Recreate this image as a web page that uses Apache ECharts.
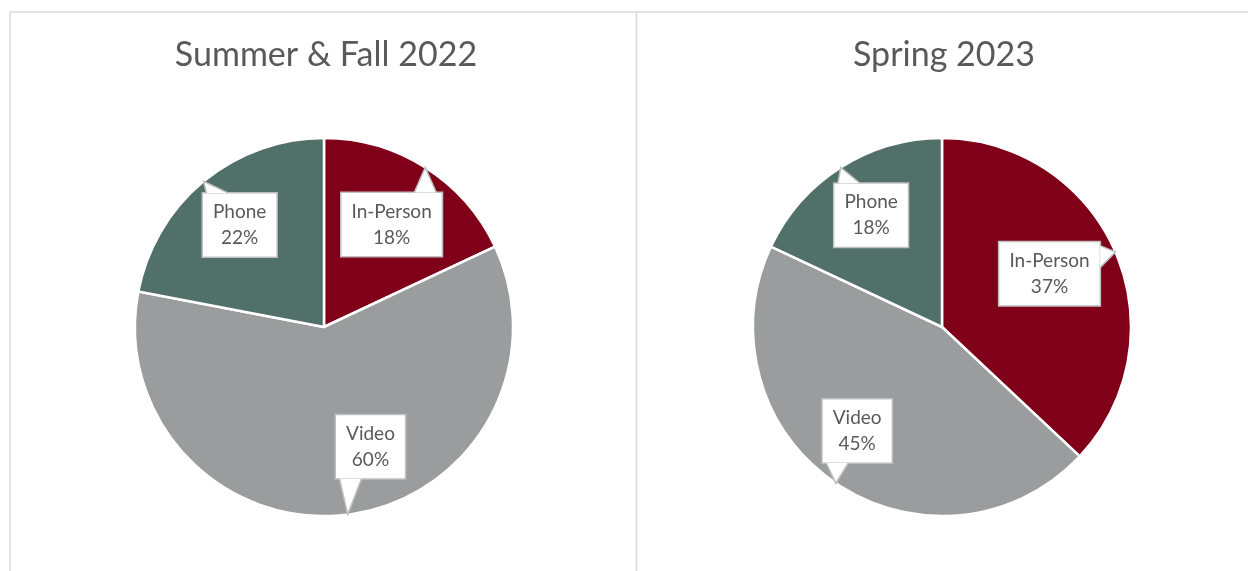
<!DOCTYPE html>
<html><head><meta charset="utf-8">
<script src="https://cdn.jsdelivr.net/npm/echarts@6/dist/echarts.min.js"></script>
<style>html,body{margin:0;padding:0;background:#fff}#c{width:1248px;height:571px}</style>
</head><body><div id="c"></div>
<script>
const titles = ['Summer & Fall 2022', 'Spring 2023'];
const categories = ['In-Person', 'Video', 'Phone'];
const summerFall2022 = [18, 60, 22];
const spring2023 = [37, 45, 18];
const colors = ['#80001A', '#9B9C9E', '#52706A'];

// label placement (styling): [fraction of radius, angular offset in degrees]
const labelPlace = [
  [[0.65, 1], [0.68, -14], [0.70, 0]],
  [[0.635, -3], [0.71, 5], [0.70, 0]]
];
const R = 189;
const centers = [[324, 327], [942, 327]];
const FONT = 'Lato, "Noto Sans", sans-serif';

function makeData(vals) {
  return categories.map((c, i) => ({ name: c, value: vals[i], itemStyle: { color: colors[i] } }));
}

function labelLayout(params) {
  const pl = labelPlace[params.seriesIndex][params.dataIndex];
  const pts = params.labelLinePoints;
  if (!pts) return {};
  const p0 = pts[0], p1 = pts[1];
  let dx = p1[0] - p0[0], dy = p1[1] - p0[1];
  const len = Math.hypot(dx, dy) || 1; dx /= len; dy /= len;
  const cx = p0[0] - dx * R, cy = p0[1] - dy * R;
  const th = Math.atan2(dx, -dy) + pl[1] * Math.PI / 180;
  const lx = cx + R * pl[0] * Math.sin(th), ly = cy - R * pl[0] * Math.cos(th);
  const w = params.labelRect.width, h = params.labelRect.height;
  const left = lx - w / 2, right = lx + w / 2, top = ly - h / 2, bottom = ly + h / 2;
  const tip = [p0[0], p0[1]];
  let b1, b2;
  if (tip[1] < top || tip[1] > bottom) {
    const ey = tip[1] < top ? top + 1 : bottom - 1;
    const bx = Math.min(Math.max(tip[0], left + 16), right - 16);
    b1 = [bx - 11, ey]; b2 = [bx + 11, ey];
  } else {
    const ex = tip[0] < left ? left + 1 : right - 1;
    const by = Math.min(Math.max(tip[1], top + 16), bottom - 16);
    b1 = [ex, by - 11]; b2 = [ex, by + 11];
  }
  return { x: lx, y: ly, align: 'center', verticalAlign: 'middle', labelLinePoints: [b1, tip, b2] };
}

function pieSeries(vals, idx) {
  return {
    type: 'pie',
    center: centers[idx],
    radius: R,
    startAngle: 90,
    clockwise: true,
    avoidLabelOverlap: false,
    emphasis: { disabled: true },
    itemStyle: { borderColor: '#ffffff', borderWidth: 2.5 },
    label: {
      show: true,
      position: 'outside',
      formatter: '{b}\n{c}%',
      fontFamily: FONT,
      fontSize: 19,
      lineHeight: 26,
      color: '#595959',
      backgroundColor: '#ffffff',
      borderColor: '#BFBFBF',
      borderWidth: 1.5,
      padding: [6, 10, 5, 10],
      align: 'center'
    },
    labelLine: { show: true, length: 10, length2: 10, smooth: false,
      lineStyle: { color: '#BFBFBF', width: 1.5 } },
    labelLayout: labelLayout,
    data: makeData(vals)
  };
}

const chart = echarts.init(document.getElementById('c'), null, { renderer: 'canvas' });
chart.setOption({
  animation: false,
  backgroundColor: '#ffffff',
  title: titles.map((t, i) => ({
    text: t, left: centers[i][0] - 3, top: 33, textAlign: 'center',
    textStyle: { fontFamily: FONT, fontSize: 34, fontWeight: 'normal', color: '#595959' }
  })),
  graphic: [
    { type: 'rect', silent: true, z: -10,
      shape: { x: 10, y: 12, width: 1400, height: 700 },
      style: { fill: 'none', stroke: '#D9D9D9', lineWidth: 1.5 } },
    { type: 'line', silent: true, z: -10,
      shape: { x1: 636.5, y1: 12, x2: 636.5, y2: 600 },
      style: { stroke: '#D9D9D9', lineWidth: 1.5 } }
  ],
  series: [pieSeries(summerFall2022, 0), pieSeries(spring2023, 1)]
});

// Turn the label lines into white callout pointers
function fillPointers() {
  const zr = chart.getZr();
  const list = zr.storage.getDisplayList(true, true);
  list.forEach(el => {
    if (el.type === 'polyline') {
      el.ignore = false; el.invisible = false;
      el.z2 = 1000;
      el.setStyle({ fill: '#ffffff', stroke: '#BFBFBF', lineWidth: 1.5 });
      el.markRedraw();
    }
  });
  zr.refresh();
}
fillPointers();
</script>
</body></html>
